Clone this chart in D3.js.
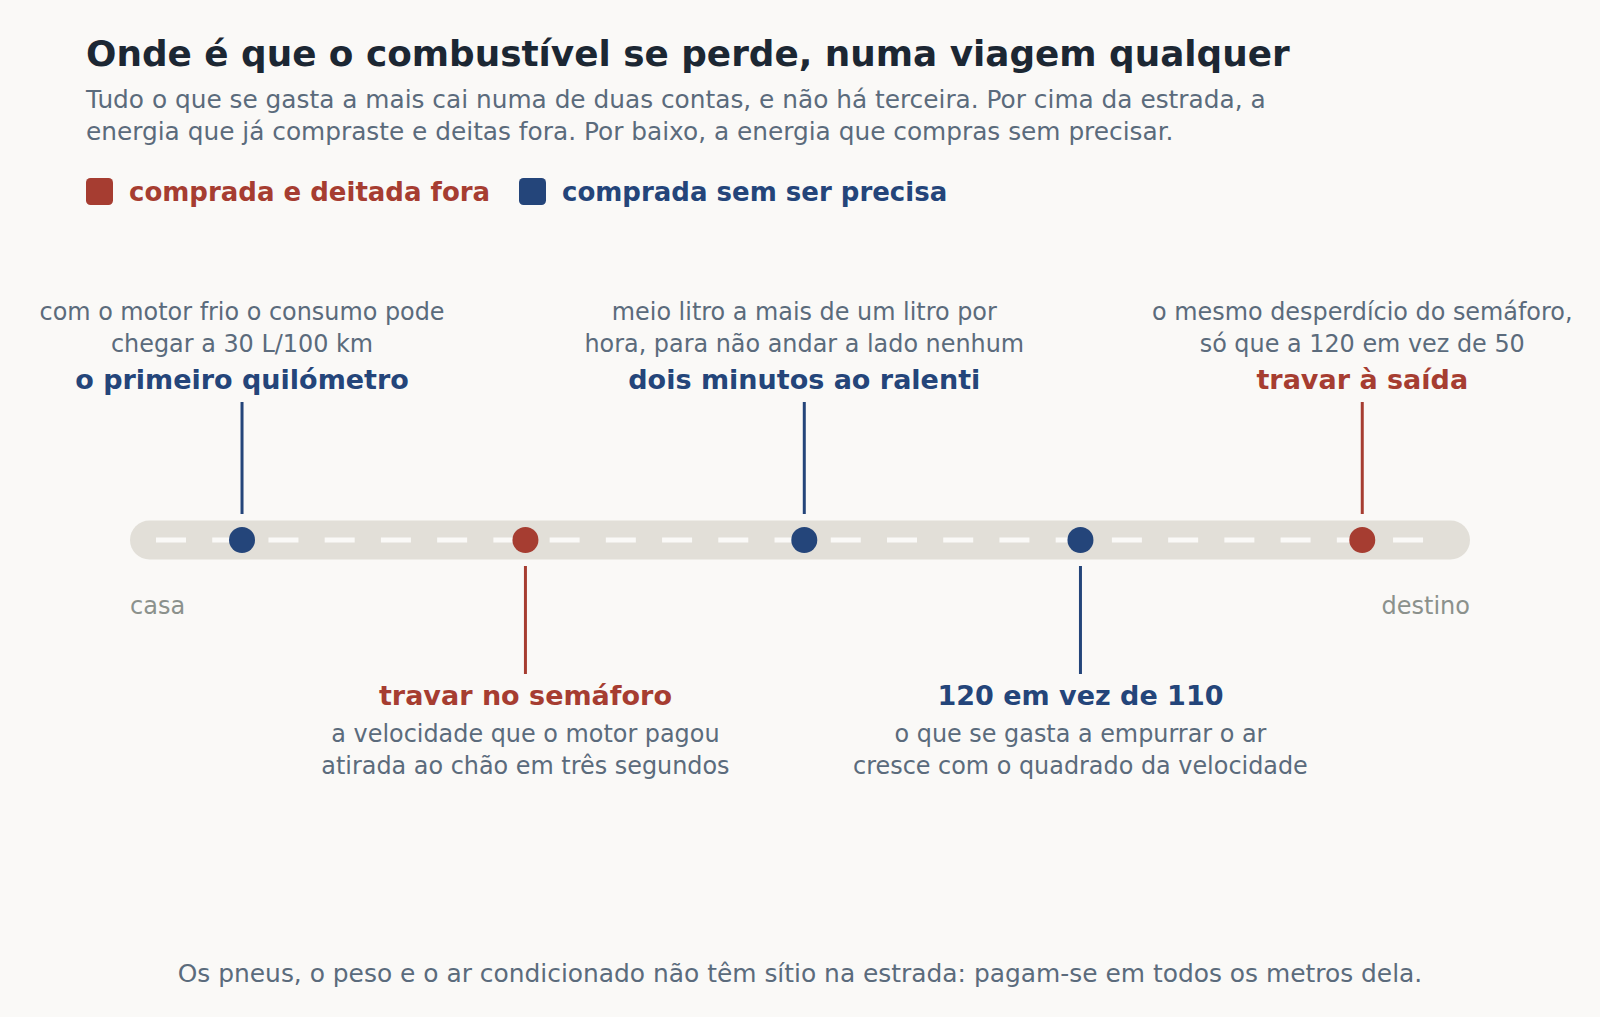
<!DOCTYPE html>
<html><head><meta charset="utf-8">
<script src="https://cdn.jsdelivr.net/npm/d3@7"></script>
<style>
html,body{margin:0;padding:0;background:#faf9f7;}
svg{display:block;font-family:"DejaVu Sans",sans-serif;}
</style></head>
<body><svg id="c" width="1600" height="1017"></svg>
<script>
const titleText = "Onde é que o combustível se perde, numa viagem qualquer";
const subtitleLines = [
  "Tudo o que se gasta a mais cai numa de duas contas, e não há terceira. Por cima da estrada, a",
  "energia que já compraste e deitas fora. Por baixo, a energia que compras sem precisar."
];
const kinds = ["wasted", "unneeded"];
const kindLabels = ["comprada e deitada fora", "comprada sem ser precisa"];
const kindColors = ["#a63d31", "#24457a"];

const stopNames = ["o primeiro quilómetro", "travar no semáforo", "dois minutos ao ralenti", "120 em vez de 110", "travar à saída"];
const stopKinds = ["unneeded", "wasted", "unneeded", "unneeded", "wasted"];
const stopPos = [0.0836, 0.2951, 0.5032, 0.7093, 0.9196];
const stopSide = ["up", "down", "up", "down", "up"];
const stopDesc = [
  ["com o motor frio o consumo pode", "chegar a 30 L/100 km"],
  ["a velocidade que o motor pagou", "atirada ao chão em três segundos"],
  ["meio litro a mais de um litro por", "hora, para não andar a lado nenhum"],
  ["o que se gasta a empurrar o ar", "cresce com o quadrado da velocidade"],
  ["o mesmo desperdício do semáforo,", "só que a 120 em vez de 50"]
];
const roadEnds = ["casa", "destino"];
const footnote = "Os pneus, o peso e o ar condicionado não têm sítio na estrada: pagam-se em todos os metros dela.";

const svg = d3.select("#c");
const W = 1600, H = 1017;
svg.append("rect").attr("width", W).attr("height", H).attr("fill", "#faf9f7");

const textDark = "#1c2733", textGrey = "#5b6b7c", textLight = "#8b918c";
const color = d3.scaleOrdinal().domain(kinds).range(kindColors);

// Title & subtitle
svg.append("text").attr("x", 86).attr("y", 66).attr("fill", textDark)
  .attr("font-size", 35.8).attr("font-weight", "bold").text(titleText);
svg.selectAll("text.sub").data(subtitleLines).join("text").attr("class", "sub")
  .attr("x", 86).attr("y", (d, i) => 108 + i * 32).attr("fill", textGrey)
  .attr("font-size", 24.8).text(d => d);

// Legend
const legX = [86, 519];
const leg = svg.selectAll("g.leg").data(kinds).join("g").attr("class", "leg")
  .attr("transform", (d, i) => `translate(${legX[i]},178)`);
leg.append("rect").attr("width", 27).attr("height", 27).attr("rx", 4.5).attr("fill", d => color(d));
leg.append("text").attr("x", 43).attr("y", 23).attr("font-size", 26).attr("font-weight", "bold")
  .attr("fill", d => color(d)).text((d, i) => kindLabels[i]);

// Road
const roadX0 = 130, roadX1 = 1470, roadY = 540, roadH = 39;
const x = d3.scaleLinear().domain([0, 1]).range([roadX0, roadX1]);
svg.append("rect").attr("x", x(0)).attr("y", roadY - roadH / 2).attr("width", x(1) - x(0))
  .attr("height", roadH).attr("rx", roadH / 2).attr("fill", "#e2dfd8");
svg.append("line").attr("x1", 156).attr("x2", 1444).attr("y1", roadY).attr("y2", roadY)
  .attr("stroke", "#faf9f7").attr("stroke-width", 5).attr("stroke-dasharray", "30 26.23");

// Road ends
svg.append("text").attr("x", x(0)).attr("y", 614).attr("font-size", 24).attr("fill", textLight).text(roadEnds[0]);
svg.append("text").attr("x", x(1)).attr("y", 614).attr("text-anchor", "end").attr("font-size", 24).attr("fill", textLight).text(roadEnds[1]);

// Stops
const stops = stopNames.map((n, i) => ({ name: n, kind: stopKinds[i], pos: stopPos[i], side: stopSide[i], desc: stopDesc[i] }));
const g = svg.selectAll("g.stop").data(stops).join("g").attr("class", "stop")
  .attr("transform", d => `translate(${x(d.pos)},0)`);

g.append("line").attr("x1", 0).attr("x2", 0)
  .attr("y1", d => d.side === "up" ? 402 : 566)
  .attr("y2", d => d.side === "up" ? 514 : 674)
  .attr("stroke", d => color(d.kind)).attr("stroke-width", 3);
g.append("circle").attr("cy", roadY).attr("r", 13).attr("fill", d => color(d.kind));

g.append("text").attr("text-anchor", "middle").attr("font-size", 27).attr("font-weight", "bold")
  .attr("fill", d => color(d.kind)).attr("y", d => d.side === "up" ? 389 : 705).text(d => d.name);
g.each(function (d) {
  const base = d.side === "up" ? 320 : 742;
  d3.select(this).selectAll("text.desc").data(d.desc).join("text").attr("class", "desc")
    .attr("text-anchor", "middle").attr("font-size", 23.9).attr("fill", textGrey)
    .attr("y", (t, i) => base + i * 32).text(t => t);
});

// Footnote
svg.append("text").attr("x", W / 2).attr("y", 982).attr("text-anchor", "middle")
  .attr("font-size", 24.9).attr("fill", textGrey).text(footnote);
</script></body></html>
